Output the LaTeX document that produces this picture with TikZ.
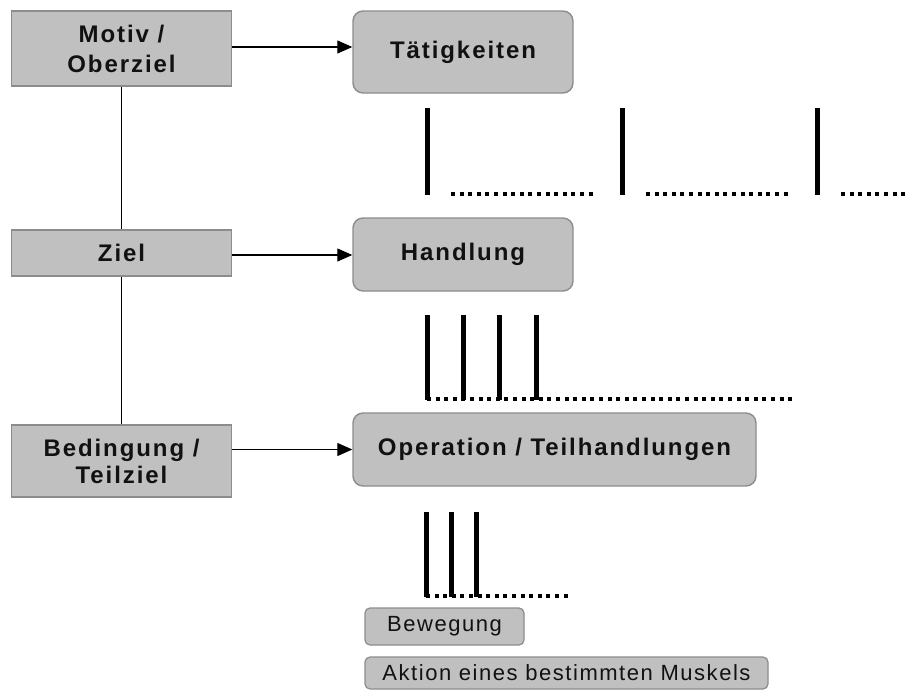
\documentclass[tikz,border=0pt]{standalone}
\usepackage{fontspec}
\setmainfont{Liberation Sans}
\newfontfamily\lblfont[LetterSpace=8]{Liberation Sans}
\newfontfamily\smallfont[LetterSpace=7]{Liberation Sans}
\usetikzlibrary{arrows.meta}
\definecolor{boxfill}{HTML}{C0C0C0}
\definecolor{boxline}{HTML}{8C8C8C}
\definecolor{ink}{HTML}{111111}
\tikzset{
  levelbox/.style={draw=boxline, line width=1.4pt, fill=boxfill, inner sep=0pt,
    minimum width=220pt, align=center, text=ink,
    font=\lblfont\bfseries\fontsize{24}{30}\selectfont},
  actbox/.style={levelbox, rounded corners=10pt},
  smallbox/.style={draw=boxline, line width=1.2pt, fill=boxfill, inner sep=0pt,
    rounded corners=5pt, text=ink, font=\smallfont\fontsize{22}{24}\selectfont},
  link/.style={line width=1.1pt, draw=black},
  pointer/.style={link, -{Triangle[length=15pt,width=13pt]}},
  bar/.style={line width=5pt, draw=black},
  dotline/.style={line width=4pt, draw=black, dash pattern=on 4pt off 4.6pt}
}
\begin{document}
\begin{tikzpicture}[x=1pt,y=-1pt]
  \useasboundingbox (0,0) rectangle (906,691);

  % left column: levels of motivation
  \node[levelbox, minimum height=75pt] (motiv) at (121.5,48.5) {Motiv /\\Oberziel};
  \node[levelbox, minimum height=46pt] (ziel) at (121.5,253) {Ziel};
  \node[levelbox, minimum height=72pt,
        font=\lblfont\bfseries\fontsize{24}{27}\selectfont] (bed) at (121.5,461) {Bedingung /\\Teilziel};

  % right column: levels of activity
  \node[actbox, minimum height=82pt] (tat) at (463,52) {\raisebox{5pt}{Tätigkeiten}};
  \node[actbox, minimum height=73pt] (hand) at (463,254.5) {Handlung};
  \node[actbox, minimum width=403pt, minimum height=73pt] (op) at (554.5,449.5) {Operation / Teilhandlungen};

  % lowest level
  \node[smallbox, minimum width=159pt, minimum height=37pt] (beweg) at (444.5,626.5) {Bewegung};
  \node[smallbox, minimum width=403pt, minimum height=32pt] (aktion) at (566.5,673) {Aktion eines bestimmten Muskels};

  % hierarchy on the left
  \draw[link] (motiv.south) -- (ziel.north);
  \draw[link] (ziel.south) -- (bed.north);

  % each goal level points to its activity level
  \draw[pointer] (motiv.east) ++(0,-1.5) coordinate (m1) -- (m1 -| tat.west);
  \draw[pointer] (ziel.east) ++(0,2) coordinate (z1) -- (z1 -| hand.west);
  \draw[pointer] (bed.east |- op.west) -- (op.west);

  % activities split into sequences of actions
  \foreach \x in {427,622,817} \draw[bar] (\x,108) -- (\x,195);
  \draw[dotline] (451,194) -- (597,194);
  \draw[dotline] (646,194) -- (792,194);
  \draw[dotline] (841,194) -- (910,194);

  % actions split into operations
  \foreach \x in {427,463,499,536} \draw[bar] (\x,315) -- (\x,400);
  \draw[dotline] (427,399) -- (792,399);

  % operations split into movements
  \foreach \x in {426,451,476} \draw[bar] (\x,512) -- (\x,597);
  \draw[dotline] (426,596) -- (572,596);
\end{tikzpicture}
\end{document}
